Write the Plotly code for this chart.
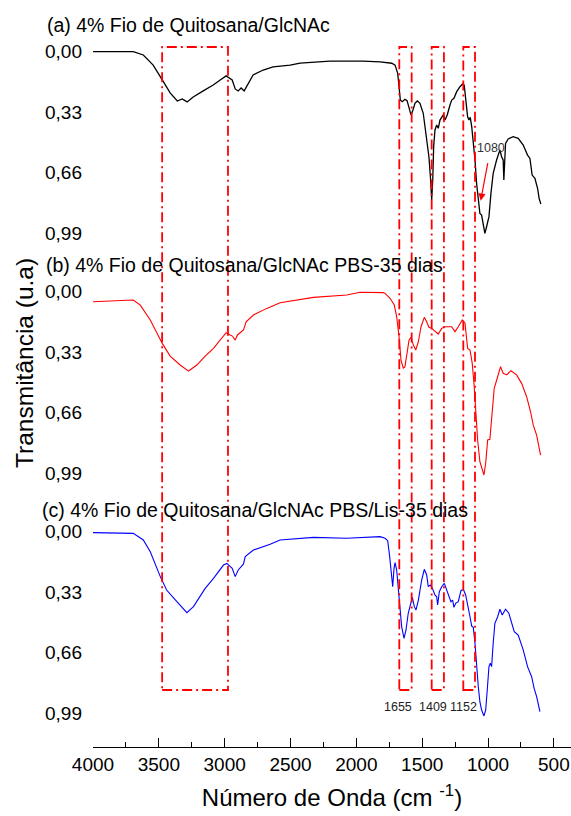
import plotly.graph_objects as go

# ---------------- data ----------------
wn_a = [4000, 3694, 3618, 3543, 3474, 3414, 3360, 3322, 3285, 3239, 3163, 3087, 3034, 2989, 2943,
        2920, 2898, 2875, 2852, 2829, 2784, 2708, 2632, 2503, 2427, 2200, 1949, 1820, 1782, 1731,
        1706, 1686, 1676, 1666, 1651, 1631, 1615, 1600, 1585, 1570, 1555, 1537, 1517, 1492, 1466,
        1449, 1436, 1428, 1420, 1413, 1403, 1390, 1378, 1365, 1352, 1340, 1327, 1310, 1289, 1276,
        1259, 1238, 1213, 1193, 1181, 1170, 1155, 1145, 1135, 1124, 1112, 1099, 1087, 1074, 1062,
        1049, 1036, 1024, 1011, 993, 978, 961, 935, 910, 897, 885, 880, 874, 867, 847,
        809, 771, 733, 700, 682, 665, 644, 624, 612, 599]
t_a = [0.0, 0.0, 0.018, 0.073, 0.154, 0.225, 0.269, 0.258, 0.274, 0.247, 0.214, 0.182, 0.154, 0.132, 0.154,
       0.203, 0.214, 0.198, 0.214, 0.182, 0.127, 0.10, 0.083, 0.073, 0.062, 0.051, 0.051, 0.056, 0.06, 0.063,
       0.073, 0.118, 0.19, 0.264, 0.273, 0.26, 0.267, 0.309, 0.345, 0.318, 0.282, 0.269, 0.282, 0.336, 0.464,
       0.573, 0.70, 0.809, 0.70, 0.518, 0.427, 0.40, 0.418, 0.373, 0.358, 0.345, 0.373, 0.345, 0.291, 0.264,
       0.254, 0.218, 0.191, 0.176, 0.182, 0.245, 0.355, 0.373, 0.358, 0.409, 0.482, 0.591, 0.718, 0.827, 0.882,
       0.891, 0.936, 0.991, 0.955, 0.90, 0.773, 0.664, 0.591, 0.536, 0.573, 0.591, 0.70, 0.536, 0.50, 0.476,
       0.464, 0.473, 0.509, 0.564, 0.582, 0.673, 0.691, 0.745, 0.80, 0.831]

wn_b = [4000, 3694, 3641, 3565, 3474, 3414, 3338, 3275, 3211, 3148, 3085, 3034, 2989, 2958, 2941,
        2920, 2903, 2857, 2837, 2782, 2680, 2579, 2503, 2326, 2073, 1972, 1795, 1782, 1744, 1712,
        1694, 1676, 1661, 1643, 1631, 1618, 1600, 1585, 1567, 1549, 1529, 1509, 1484, 1466, 1449,
        1428, 1403, 1378, 1352, 1327, 1276, 1251, 1226, 1196, 1175, 1155, 1137, 1120, 1105, 1092,
        1079, 1062, 1044, 1031, 1018, 1003, 986, 973, 953, 927, 905, 885, 859, 826, 783,
        745, 707, 677, 657, 631, 614, 601]
t_b = [0.055, 0.045, 0.073, 0.154, 0.282, 0.351, 0.40, 0.433, 0.40, 0.351, 0.309, 0.264, 0.224, 0.236, 0.242,
       0.264, 0.236, 0.209, 0.164, 0.127, 0.091, 0.06, 0.051, 0.031, 0.018, 0.003, 0.005, 0.009, 0.036, 0.073,
       0.136, 0.245, 0.373, 0.418, 0.409, 0.336, 0.264, 0.249, 0.291, 0.318, 0.273, 0.191, 0.14, 0.164, 0.194,
       0.20, 0.213, 0.231, 0.20, 0.191, 0.191, 0.218, 0.191, 0.154, 0.172, 0.309, 0.318, 0.391, 0.518, 0.70,
       0.809, 0.927, 0.973, 1.0, 0.936, 0.809, 0.805, 0.70, 0.527, 0.464, 0.409, 0.445, 0.454, 0.431, 0.454,
       0.50, 0.573, 0.655, 0.727, 0.782, 0.836, 0.891]

wn_c = [4000, 3694, 3618, 3565, 3489, 3441, 3363, 3287, 3237, 3148, 3085, 3009, 2983, 2943, 2920,
        2897, 2857, 2844, 2782, 2655, 2579, 2503, 2326, 2073, 1820, 1782, 1762, 1747, 1737, 1724,
        1714, 1706, 1694, 1676, 1656, 1638, 1623, 1606, 1585, 1575, 1560, 1547, 1529, 1504, 1484,
        1466, 1454, 1439, 1423, 1403, 1390, 1383, 1370, 1352, 1332, 1314, 1297, 1282, 1269, 1259,
        1246, 1226, 1206, 1188, 1170, 1155, 1137, 1124, 1112, 1099, 1087, 1074, 1062, 1049, 1031,
        1018, 1006, 993, 983, 973, 961, 948, 927, 910, 892, 867, 842, 821, 801, 771,
        733, 700, 669, 650, 631, 606]
t_c = [0.005, 0.009, 0.045, 0.109, 0.245, 0.318, 0.382, 0.442, 0.409, 0.309, 0.255, 0.182, 0.173, 0.2, 0.245,
       0.209, 0.176, 0.136, 0.1, 0.069, 0.045, 0.041, 0.031, 0.036, 0.027, 0.036, 0.049, 0.136, 0.209, 0.30,
       0.2, 0.169, 0.209, 0.355, 0.518, 0.582, 0.536, 0.445, 0.373, 0.358, 0.409, 0.427, 0.373, 0.264, 0.205,
       0.236, 0.30, 0.291, 0.309, 0.345, 0.355, 0.40, 0.327, 0.30, 0.282, 0.318, 0.349, 0.382, 0.373, 0.413,
       0.391, 0.382, 0.322, 0.314, 0.345, 0.409, 0.464, 0.515, 0.522, 0.609, 0.736, 0.846, 0.927, 0.973, 1.005,
       0.973, 0.864, 0.736, 0.718, 0.736, 0.609, 0.50, 0.464, 0.423, 0.454, 0.423, 0.445, 0.491, 0.545, 0.564,
       0.645, 0.736, 0.791, 0.855, 0.9, 0.982]

panel_titles = ["(a) 4% Fio de Quitosana/GlcNAc",
                "(b) 4% Fio de Quitosana/GlcNAc PBS-35 dias",
                "(c) 4% Fio de Quitosana/GlcNAc PBS/Lis-35 dias"]
y_ticks = [0.0, 0.33, 0.66, 0.99]
y_ticktext = ["0,00", "0,33", "0,66", "0,99"]
x_ticks = [500, 1000, 1500, 2000, 2500, 3000, 3500, 4000]

band_regions = [(3475, 2975), (1674, 1580), (1428, 1335), (1188, 1099)]
band_labels = ["1655", "1409", "1152"]
arrow_label = "1080"
arrow_target = (1056, 0.813)

# ---------------- layout geometry (pixels) ----------------
W, H = 571, 816
PL, PR, PT, PB = 93, 571, 10, 747
S = 183.3  # pixels per transmittance unit
panels = [  # (top px, bottom px, zero px)
    (PT, 270, 51.7),
    (270, 510, 291.7),
    (510, PB, 531.7),
]

def fx(p):
    return (p - PL) / (PR - PL)

def fy(p):
    return (PB - p) / (PB - PT)

FONT = "Liberation Sans, Arial, sans-serif"

fig = go.Figure()
series = [(wn_a, t_a, "black", 1.3), (wn_b, t_b, "#ff0000", 1.1), (wn_c, t_c, "#0000ff", 1.1)]
for i, (wx, ty, col, lw) in enumerate(series):
    fig.add_trace(go.Scatter(x=wx, y=ty, mode="lines", line=dict(color=col, width=lw),
                             xaxis="x", yaxis="y" if i == 0 else f"y{i+1}", showlegend=False,
                             hoverinfo="skip"))

layout_axes = {}
for i, (top, bot, zero) in enumerate(panels):
    name = "yaxis" if i == 0 else f"yaxis{i+1}"
    layout_axes[name] = dict(
        domain=[fy(bot), fy(top)],
        range=[(bot - zero) / S, (top - zero) / S],
        anchor="x", showline=False, showgrid=False, zeroline=False, ticks="",
        tickvals=y_ticks, ticktext=y_ticktext, ticklabelstandoff=10, automargin=False,
        tickfont=dict(family=FONT, size=19, color="black"),
    )

fig.update_layout(
    width=W, height=H,
    margin=dict(l=PL, r=W - PR, t=PT, b=H - PB, autoexpand=False),
    paper_bgcolor="white", plot_bgcolor="white",
    xaxis=dict(
        range=[4000, 370], anchor="y3", showgrid=False, zeroline=False, automargin=False,
        showline=True, linecolor="black", linewidth=1.3,
        ticks="inside", ticklen=9, tickwidth=1.3, tickcolor="black",
        tickvals=x_ticks, ticktext=[str(v) for v in x_ticks],
        minor=dict(ticks="inside", ticklen=5, tickwidth=1.3, tickcolor="black", dtick=250, tick0=0, showgrid=False),
        tickfont=dict(family=FONT, size=19, color="black"),
        title=dict(text="Número de Onda (cm <sup>-1</sup>)", font=dict(family=FONT, size=24, color="black"),
                   standoff=15),
    ),
    **layout_axes,
)

# red dash-dot band boxes
for (x0, x1) in band_regions:
    fig.add_shape(type="rect", xref="x", yref="paper", x0=x0, x1=x1, y0=fy(690), y1=fy(47),
                  line=dict(color="#ff0000", width=1.8, dash="10px,4px,2px,4px"), fillcolor="rgba(0,0,0,0)")

# panel titles
title_pos = [(45, 25), (43.5, 265), (40, 510)]
for txt, (px, py) in zip(panel_titles, title_pos):
    fig.add_annotation(text=txt, xref="paper", yref="paper", x=fx(px), y=fy(py), xanchor="left",
                       yanchor="middle", showarrow=False, font=dict(family=FONT, size=19.5, color="black"))

# y axis title
fig.add_annotation(text="Transmitância (u.a)", xref="paper", yref="paper", x=fx(24), y=fy(363),
                   textangle=-90, showarrow=False, xanchor="center", yanchor="middle",
                   font=dict(family=FONT, size=24.5, color="black"))

# band number labels
for txt, px in zip(band_labels, [398, 433, 463.5]):
    fig.add_annotation(text=txt, xref="paper", yref="paper", x=fx(px), y=fy(707), showarrow=False,
                       xanchor="center", yanchor="middle", font=dict(family=FONT, size=12.5, color="#222"))

# 1080 arrow
fig.add_annotation(text=arrow_label, xref="x", yref="y", x=arrow_target[0], y=arrow_target[1],
                   ax=10, ay=-53, showarrow=True, arrowcolor="#ff0000", arrowhead=2, arrowsize=1.2,
                   arrowwidth=1.2, startstandoff=7, font=dict(family=FONT, size=12.5, color="#333"))

fig.write_html("out.html", config={"displayModeBar": False},
               post_script="document.body.style.margin='0px';document.body.style.padding='0px';")
